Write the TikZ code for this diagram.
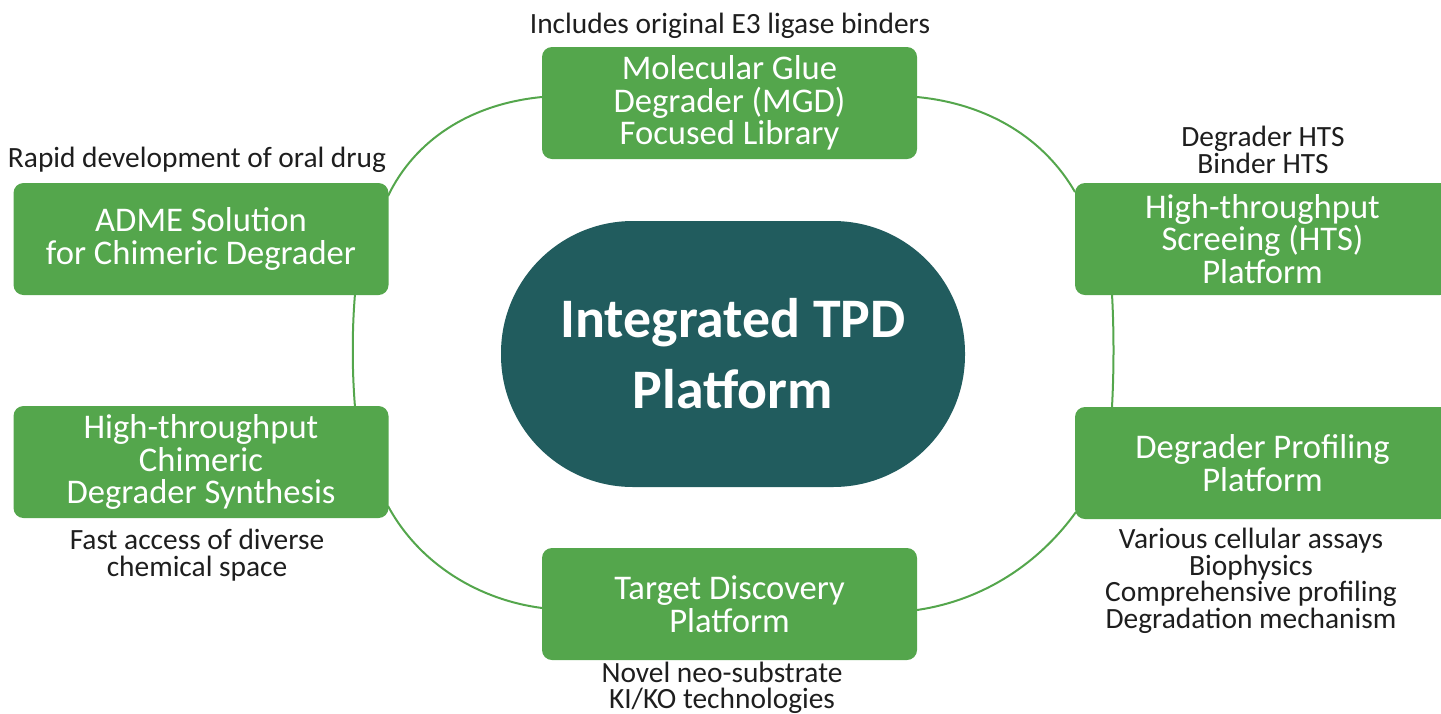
\documentclass[tikz,border=0pt]{standalone}
\usepackage{fontspec}
\setmainfont{Carlito}
\definecolor{boxgreen}{RGB}{84,166,76}
\definecolor{hubteal}{RGB}{33,92,94}
\definecolor{labelgray}{RGB}{30,30,30}
\begin{document}
\begin{tikzpicture}[x=0.5pt,y=-0.5pt,
  platbox/.style={fill=boxgreen, rounded corners=5pt, minimum width=187.5pt, minimum height=56pt,
    inner sep=0pt, text=white, align=center, font=\fontsize{17.3}{16.3}\selectfont},
  hub/.style={fill=hubteal, rounded corners=66pt, minimum width=232pt, minimum height=133pt,
    inner sep=0pt, text=white, align=center, font=\fontsize{27.9}{35.5}\selectfont\bfseries},
  note/.style={text=labelgray, align=center, inner sep=0pt, font=\fontsize{14.7}{13.3}\selectfont},
  link/.style={draw=boxgreen, line width=1pt}]
\useasboundingbox (0,0) rectangle (1441,713);

% connectors (drawn first, behind boxes)
\coordinate (mgdL) at (542,97);
\coordinate (mgdR) at (917,97);
\coordinate (admeR) at (388,196);
\coordinate (htsL) at (1075,192);
\coordinate (admeB) at (355,294);
\coordinate (chimT) at (355,407);
\coordinate (htsB) at (1112,294);
\coordinate (profT) at (1112,407);
\coordinate (chimR) at (388,506);
\coordinate (tgtL) at (542,608);
\coordinate (tgtR) at (917,610);
\coordinate (profL) at (1076,512);

\draw[link] (mgdL) .. controls (470,104) and (415,140) .. (admeR);
\draw[link] (mgdR) .. controls (990,104) and (1045,140) .. (htsL);
\draw[link] (admeB) .. controls (352,330) and (352,370) .. (chimT);
\draw[link] (htsB) .. controls (1114,330) and (1114,370) .. (profT);
\draw[link] (chimR) .. controls (420,565) and (480,600) .. (tgtL);
\draw[link] (tgtR) .. controls (985,600) and (1040,562) .. (profL);

% boxes
\node[platbox] (mgd) at (729.5,103) {Molecular Glue\\Degrader (MGD)\\Focused Library};
\node[platbox] (adme) at (201,239) {ADME Solution\\for Chimeric Degrader};
\node[platbox] (hts) at (1262.5,239) {High-throughput\\Screeing (HTS)\\Platform};
\node[platbox] (chim) at (201,462) {High-throughput\\Chimeric\\Degrader Synthesis};
\node[platbox] (prof) at (1262.5,463) {Degrader Profiling\\Platform};
\node[platbox] (tgt) at (729.5,604) {Target Discovery\\Platform};

% hub
\node[hub] (hub) at (733,354) {Integrated TPD\\Platform};

% notes
\node[note] (n1) at (730,26) {Includes original E3 ligase binders};
\node[note] (n2) at (197,160) {Rapid development of oral drug};
\node[note] (n3) at (1263,150) {Degrader HTS\\Binder HTS};
\node[note] (n4) at (197,555) {Fast access of diverse\\chemical space};
\node[note] (n5) at (722,688) {Novel neo-substrate\\KI/KO technologies};
\node[note] (n6) at (1251,581) {Various cellular assays\\Biophysics\\Comprehensive profiling\\Degradation mechanism};
\end{tikzpicture}
\end{document}
